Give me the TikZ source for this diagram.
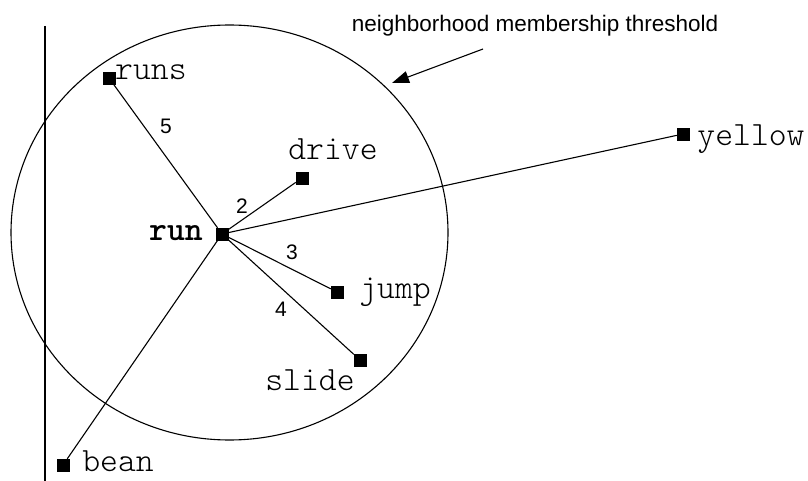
\documentclass[tikz,border=0pt]{standalone}
\usepackage{fontspec}
\setsansfont{Liberation Sans}
\setmonofont{lmmonolt10-regular.otf}[BoldFont=lmmonolt10-bold.otf]
\usetikzlibrary{arrows.meta,positioning,shapes.geometric}
\newcommand{\wordfont}{\fontsize{34}{40}\selectfont\ttfamily}
\newcommand{\numfont}{\fontsize{21}{25}\selectfont\sffamily}
\newcommand{\notefont}{\fontsize{22.5}{27}\selectfont\sffamily}
\tikzset{
      wordpt/.style={
        rectangle,
        draw=black,
        fill=black,
        minimum size=12pt,
        inner sep=0pt
      },
      wordlabel/.style={font=\wordfont, inner sep=0pt},
      distlabel/.style={font=\numfont, inner sep=0pt},
      simline/.style={line width=1.1pt, color=black},
      pointer/.style={line width=1.1pt, -{Triangle[length=17pt,width=12pt]}}
    }

\begin{document}
\begin{tikzpicture}[x=1pt,y=-1pt]
    \useasboundingbox (0,0) rectangle (808,481);
    \draw[simline] (45,26) -- (45,481);
    \node[ellipse, draw, line width=1.1pt, minimum width=437pt, minimum height=415pt, inner sep=0pt] (thresh) at (229.5,232.5) {};
    \node[font=\notefont, inner sep=0pt, anchor=base] (note) at (535,32) {neighborhood membership threshold};
    \coordinate (tail) at (483,49);
    \coordinate (tip) at (392,83);
    \draw[pointer] (tail) -- (tip);
    % word points
    \node[wordpt] (run) at (222,234) {};
    \node[wordpt] (runs) at (109,78) {};
    \node[wordpt] (drive) at (302,178) {};
    \node[wordpt] (yellow) at (683,134) {};
    \node[wordpt] (jump) at (337,292) {};
    \node[wordpt] (slide) at (360,360) {};
    \node[wordpt] (bean) at (63,465) {};
    % word labels
    \node[wordlabel, anchor=base] (lrun) at (176,240) {\bfseries run};
    \node[wordlabel, anchor=base west] (lruns) at (115,80) {runs};
    \node[wordlabel, anchor=base] (ldrive) at (333,160) {drive};
    \node[wordlabel, anchor=base] (lyellow) at (751,146) {yellow};
    \node[wordlabel, anchor=base] (ljump) at (395,298) {jump};
    \node[wordlabel, anchor=base] (lslide) at (310,390) {slide};
    \node[wordlabel, anchor=base] (lbean) at (118,471) {bean};
    % links
    \draw[simline] (run) -- (runs);
    \draw[simline] (run) -- (drive);
    \draw[simline] (run) -- (yellow);
    \draw[simline] (run) -- (jump);
    \draw[simline] (run) -- (slide);
    \draw[simline] (run) -- (bean);
    % distances
    \node[distlabel] (d5) at (166,126) {5};
    \node[distlabel] (d2) at (242,206) {2};
    \node[distlabel] (d3) at (292,252) {3};
    \node[distlabel] (d4) at (281,309) {4};
    \end{tikzpicture}
\end{document}
